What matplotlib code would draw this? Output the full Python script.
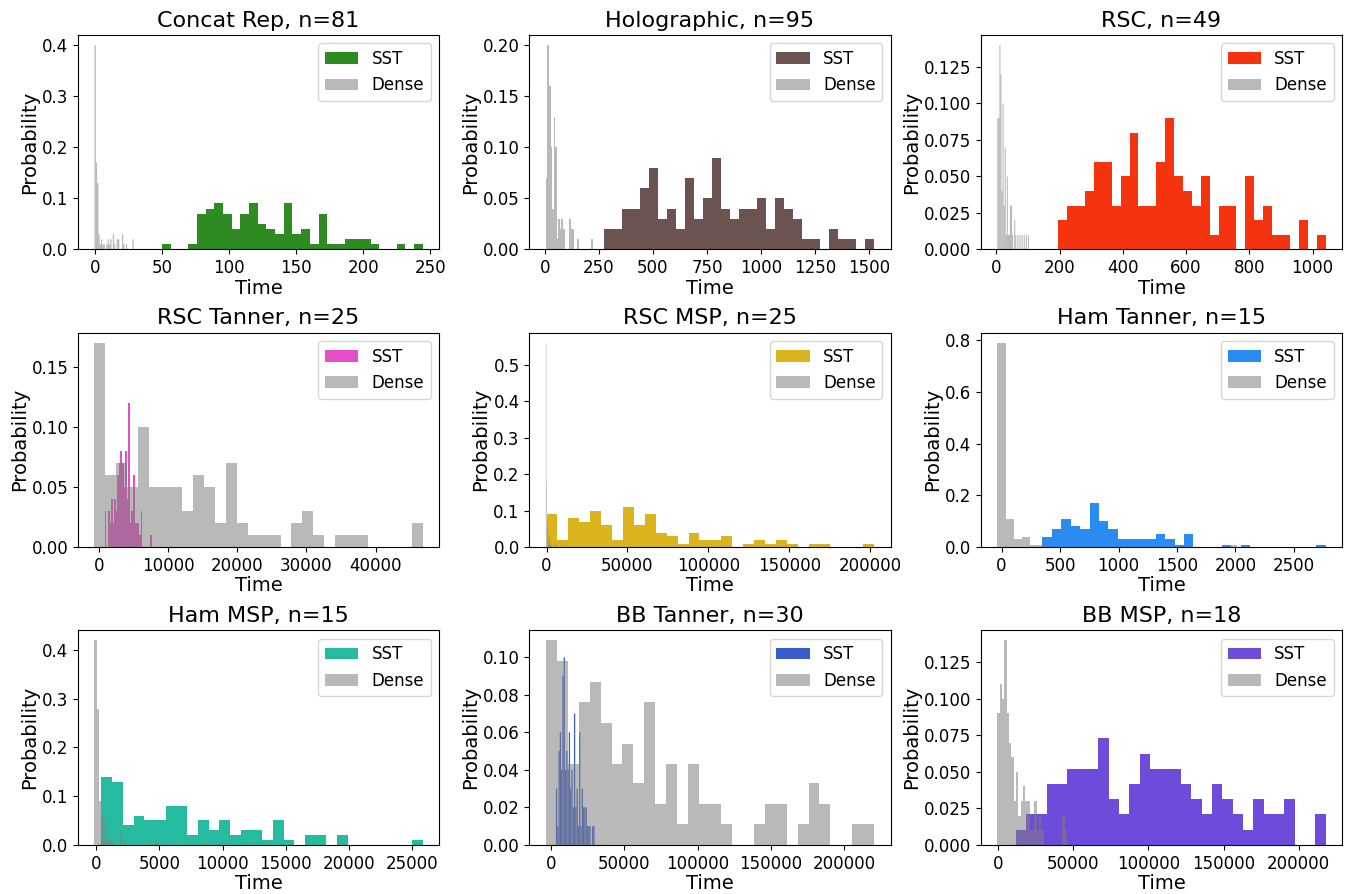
import numpy as np
import matplotlib
matplotlib.use("Agg")
import matplotlib.pyplot as plt

# ---------------- data (probabilities per histogram bin) ----------------
titles = ["Concat Rep, n=81", "Holographic, n=95", "RSC, n=49",
          "RSC Tanner, n=25", "RSC MSP, n=25", "Ham Tanner, n=15",
          "Ham MSP, n=15", "BB Tanner, n=30", "BB MSP, n=18"]

sst_colors = ["#2e8b22", "#6b5351", "#f5330f",
              "#e64dc8", "#dbb31c", "#2a8bf2",
              "#26bba0", "#3a5ccc", "#6f4bdc"]

# (min, max) of the time values for each histogram
sst_ranges = [(50, 244.5), (273, 1523), (196, 1041),
              (871, 7644), (0, 202474), (349, 2770),
              (421, 25842), (3409, 29773), (11504, 217920)]
dense_ranges = [(-0.5, 28.8), (5, 221), (3, 103.4),
                (-629, 46830), (-412, 9278), (-37, 2084),
                (-132, 4842), (-3409, 220227), (-650, 45800)]

sst_concat = [0.01, 0, 0, 0.01, 0.07, 0.08, 0.09, 0.07, 0.04, 0.07,
              0.09, 0.05, 0.04, 0.03, 0.09, 0.03, 0.04, 0.01, 0.07, 0.01,
              0.01, 0.02, 0.02, 0.02, 0.01, 0, 0, 0.01, 0, 0.01]
dense_concat = [0.40, 0.17, 0.13, 0.03, 0.01, 0.02, 0.01, 0.01, 0, 0.01,
                0.02, 0.01, 0.02, 0, 0.03, 0.01, 0, 0.02, 0.02, 0,
                0, 0.03, 0.01, 0, 0.01, 0, 0, 0, 0, 0.02]

sst_holo = [0.02, 0.02, 0.04, 0.04, 0.06, 0.08, 0.03, 0.04, 0.02, 0.07,
            0.03, 0.05, 0.09, 0.04, 0.03, 0.04, 0.04, 0.05, 0.02, 0.05,
            0.04, 0.03, 0.01, 0.01, 0, 0.02, 0.01, 0.01, 0, 0.01]
dense_holo = [0.07, 0.20, 0.16, 0.10, 0.04, 0.13, 0.10, 0.01, 0.03, 0.02,
              0.03, 0.02, 0, 0, 0, 0.03, 0.02, 0.02, 0, 0,
              0.01, 0, 0, 0, 0, 0, 0, 0, 0, 0.01]

sst_rsc = [0.02, 0.03, 0.03, 0.04, 0.06, 0.06, 0.03, 0.05, 0.08, 0.03,
           0.03, 0.06, 0.09, 0.05, 0.04, 0.03, 0.05, 0.01, 0.03, 0.03,
           0, 0.05, 0.02, 0.03, 0.01, 0.01, 0, 0.02, 0, 0.01]
dense_rsc = [0.09, 0.09, 0.14, 0.12, 0.04, 0.10, 0.03, 0.07, 0.01, 0.05,
             0.01, 0.01, 0.03, 0.03, 0.01, 0, 0.02, 0.01, 0, 0.01,
             0, 0.01, 0, 0.01, 0, 0.01, 0, 0.01, 0, 0.01]

sst_rsc_tanner = [0.03, 0.0, 0.03, 0.02, 0.04, 0.02, 0.04, 0.03, 0.06, 0.07,
                  0.08, 0.07, 0.05, 0.08, 0.04, 0.12, 0.02, 0.03, 0.06, 0.02,
                  0.02, 0.02, 0.01, 0.03, 0, 0, 0, 0, 0, 0.01]
dense_rsc_tanner = [0.17, 0.06, 0.07, 0.05, 0.10, 0.05, 0.05, 0.05, 0.03, 0.06,
                    0.05, 0.02, 0.07, 0.02, 0.01, 0.01, 0.01, 0, 0.02, 0.03,
                    0.01, 0, 0.01, 0.01, 0.01, 0, 0, 0, 0, 0.02]

sst_rsc_msp = [0.09, 0.02, 0.08, 0.07, 0.10, 0.06, 0.02, 0.11, 0.06, 0.09,
               0.04, 0.03, 0.01, 0.04, 0.02, 0.02, 0.03, 0, 0.01, 0.02,
               0.01, 0.02, 0.01, 0, 0.01, 0.01, 0, 0, 0, 0.01]
dense_rsc_msp = [0.56, 0.18, 0.06, 0.05, 0.01, 0.02, 0.03, 0.03, 0.01, 0.01,
                 0, 0.01, 0, 0, 0, 0, 0, 0.01, 0.01, 0,
                 0, 0, 0, 0, 0, 0, 0, 0, 0, 0.01]

sst_ham_tanner = [0.04, 0.07, 0.11, 0.08, 0.07, 0.17, 0.10, 0.07, 0.03, 0.03,
                  0.03, 0.03, 0.05, 0.03, 0.01, 0.05, 0, 0, 0, 0.01,
                  0, 0.01, 0, 0, 0, 0, 0, 0, 0, 0.01]
dense_ham_tanner = [0.79, 0.11, 0.03, 0.04, 0.01, 0.01, 0, 0, 0, 0,
                    0, 0, 0, 0, 0, 0, 0, 0, 0, 0,
                    0, 0, 0, 0, 0, 0, 0, 0, 0.01, 0]

sst_ham_msp = [0.14, 0.13, 0.04, 0.06, 0.05, 0.05, 0.08, 0.08, 0.02, 0.05,
               0.03, 0.05, 0.02, 0.03, 0.03, 0.01, 0.05, 0.01, 0, 0.02,
               0.02, 0, 0.02, 0, 0, 0, 0, 0, 0, 0.01]
dense_ham_msp = [0.42, 0.28, 0.09, 0.06, 0.01, 0.05, 0.01, 0.01, 0.01, 0,
                 0, 0, 0.03, 0, 0.01, 0, 0, 0, 0, 0,
                 0, 0, 0, 0, 0, 0, 0.01, 0, 0, 0.01]

sst_bb_tanner = [0.03, 0.01, 0.05, 0.06, 0.04, 0.09, 0.10, 0.04, 0.05, 0.04,
                 0.06, 0.03, 0.04, 0.02, 0.07, 0.02, 0.03, 0.01, 0.06, 0.01,
                 0.03, 0.02, 0.02, 0.02, 0.01, 0.01, 0.01, 0, 0.01, 0.01]
dense_bb_tanner = [0.109, 0.098, 0.043, 0.076, 0.087, 0.065, 0.043, 0.054, 0.033, 0.076,
                   0.022, 0.043, 0.011, 0.043, 0.022, 0.022, 0.011, 0, 0, 0.011,
                   0.022, 0.022, 0, 0.011, 0.033, 0.022, 0, 0, 0.011, 0.011]

sst_bb_msp = [0.0104, 0.0208, 0.0208, 0.0417, 0.0417, 0.0521, 0.0521, 0.0521, 0.0729, 0.0313,
              0.0208, 0.0417, 0.0625, 0.0521, 0.0521, 0.0521, 0.0417, 0.0313, 0.0208, 0.0417,
              0.0313, 0.0208, 0.0104, 0.0313, 0.0208, 0.0208, 0.0313, 0, 0, 0.0208]
dense_bb_msp = [0.09, 0.11, 0.10, 0.14, 0.09, 0.07, 0.06, 0.03, 0.05, 0.02,
                0.03, 0.04, 0.03, 0.03, 0.01, 0.01, 0.03, 0.01, 0.02, 0.01,
                0, 0, 0, 0, 0, 0, 0, 0, 0.02, 0.01]

sst_probs = [sst_concat, sst_holo, sst_rsc, sst_rsc_tanner, sst_rsc_msp,
             sst_ham_tanner, sst_ham_msp, sst_bb_tanner, sst_bb_msp]
dense_probs = [dense_concat, dense_holo, dense_rsc, dense_rsc_tanner, dense_rsc_msp,
               dense_ham_tanner, dense_ham_msp, dense_bb_tanner, dense_bb_msp]

# ---------------- plotting ----------------
fig, axes = plt.subplots(3, 3, figsize=(13.46, 8.94), dpi=100)
fig.subplots_adjust(left=0.058, right=0.997, top=0.961, bottom=0.055,
                    wspace=0.25, hspace=0.387)

for ax, title, col, sr, dr, sp, dp in zip(axes.flat, titles, sst_colors,
                                           sst_ranges, dense_ranges,
                                           sst_probs, dense_probs):
    s_edges = np.linspace(sr[0], sr[1], len(sp) + 1)
    d_edges = np.linspace(dr[0], dr[1], len(dp) + 1)
    _, _, s_patches = ax.hist(s_edges[:-1], bins=s_edges, weights=sp,
                              color=col, label="SST")
    _, _, d_patches = ax.hist(d_edges[:-1], bins=d_edges, weights=dp,
                              color="grey", alpha=0.55, label="Dense")
    ax.set_title(title, fontsize=16)
    ax.set_xlabel("Time", fontsize=14, labelpad=1)
    ax.set_ylabel("Probability", fontsize=14, labelpad=2)
    ax.tick_params(labelsize=12)
    ax.legend(loc="upper right", fontsize=12)
    # very narrow bins (< ~1.5 px) would vanish when snapped to pixels
    ax.get_xlim()
    for patches in (s_patches, d_patches):
        p0 = patches[0]
        x0 = p0.get_x()
        px = ax.transData.transform([(x0, 0), (x0 + p0.get_width(), 0)])
        if abs(px[1, 0] - px[0, 0]) < 1.5:
            for p in patches:
                p.set_snap(False)

fig.savefig("out.png", dpi=100)
